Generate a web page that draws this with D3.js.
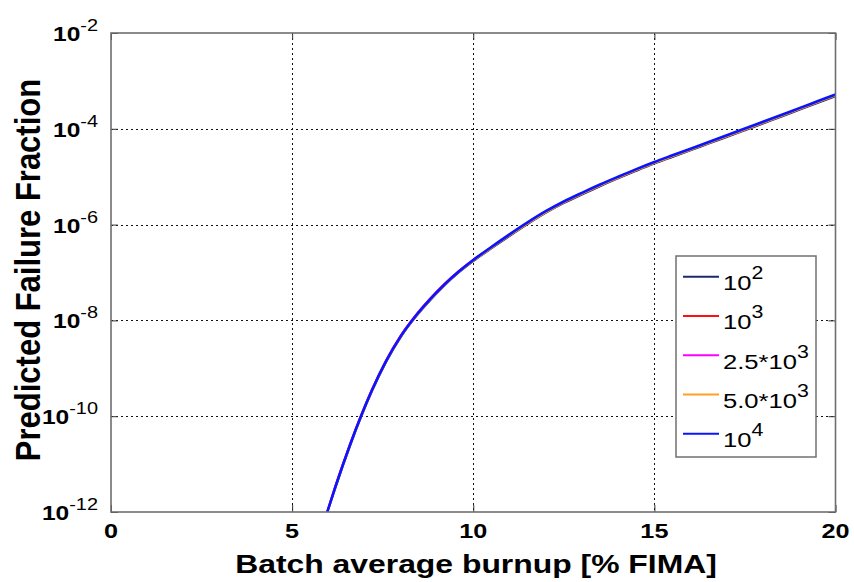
<!DOCTYPE html>
<html>
<head>
<meta charset="utf-8">
<script src="https://cdn.jsdelivr.net/npm/d3@7/dist/d3.min.js"></script>
<style>
  html, body { margin: 0; padding: 0; background: #fff; }
  svg { display: block; font-family: "Liberation Sans", Arial, sans-serif; }
</style>
</head>
<body>
<svg id="chart" width="854" height="582"></svg>
<script>
// Batch average burnup [% FIMA]
const burnup = [5.97, 6.2, 6.4, 6.6, 6.9, 7.2, 7.6, 8.0, 8.4, 8.8, 9.2, 9.6, 10, 10.5, 11, 11.5, 12,
  12.5, 13, 13.5, 14, 14.5, 15, 15.5, 16, 16.5, 17, 17.5, 18, 18.5, 19, 19.5, 20];

// Predicted failure fraction for each sample size
const fraction1e2 = [1.0e-12, 3.28e-12, 9.11e-12, 2.41e-11, 9.43e-11, 3.26e-10, 1.37e-9, 4.47e-9, 1.15e-8,
  2.57e-8, 5.30e-8, 9.98e-8, 1.72e-7, 3.17e-7, 5.74e-7, 1.02e-6, 1.75e-6, 2.80e-6, 4.24e-6, 6.32e-6,
  9.20e-6, 1.32e-5, 1.87e-5, 2.58e-5, 3.54e-5, 4.89e-5, 6.73e-5, 9.29e-5, 1.29e-4, 1.78e-4, 2.48e-4,
  3.45e-4, 4.79e-4];
const fraction1e3 = [1.0e-12, 3.52e-12, 9.78e-12, 2.59e-11, 1.01e-10, 3.50e-10, 1.47e-9, 4.79e-9, 1.23e-8,
  2.76e-8, 5.64e-8, 1.05e-7, 1.81e-7, 3.34e-7, 6.05e-7, 1.08e-6, 1.84e-6, 2.95e-6, 4.47e-6, 6.66e-6,
  9.70e-6, 1.40e-5, 1.97e-5, 2.72e-5, 3.73e-5, 5.15e-5, 7.09e-5, 9.80e-5, 1.36e-4, 1.88e-4, 2.62e-4,
  3.64e-4, 5.05e-4];
const fraction2p5e3 = [1.0e-12, 3.59e-12, 9.97e-12, 2.64e-11, 1.03e-10, 3.57e-10, 1.50e-9, 4.89e-9, 1.26e-8,
  2.82e-8, 5.75e-8, 1.07e-7, 1.83e-7, 3.38e-7, 6.12e-7, 1.09e-6, 1.86e-6, 2.98e-6, 4.52e-6, 6.73e-6,
  9.80e-6, 1.41e-5, 1.99e-5, 2.74e-5, 3.77e-5, 5.20e-5, 7.16e-5, 9.90e-5, 1.37e-4, 1.90e-4, 2.65e-4,
  3.68e-4, 5.11e-4];
const fraction5e3 = [1.0e-12, 3.35e-12, 9.30e-12, 2.46e-11, 9.63e-11, 3.33e-10, 1.40e-9, 4.56e-9, 1.17e-8,
  2.63e-8, 5.41e-8, 1.02e-7, 1.76e-7, 3.25e-7, 5.93e-7, 1.05e-6, 1.80e-6, 2.89e-6, 4.38e-6, 6.53e-6,
  9.50e-6, 1.37e-5, 1.93e-5, 2.66e-5, 3.66e-5, 5.04e-5, 6.94e-5, 9.60e-5, 1.33e-4, 1.84e-4, 2.57e-4,
  3.56e-4, 4.95e-4];
const fraction1e4 = [1.0e-12, 3.45e-12, 9.59e-12, 2.54e-11, 9.93e-11, 3.43e-10, 1.44e-9, 4.70e-9, 1.21e-8,
  2.71e-8, 5.58e-8, 1.05e-7, 1.83e-7, 3.41e-7, 6.24e-7, 1.11e-6, 1.90e-6, 3.04e-6, 4.61e-6, 6.87e-6,
  1.00e-5, 1.44e-5, 2.03e-5, 2.80e-5, 3.85e-5, 5.31e-5, 7.31e-5, 1.01e-4, 1.40e-4, 1.94e-4, 2.70e-4,
  3.75e-4, 5.21e-4];

// Legend labels: mantissa text and superscript exponent
const legendBase = ["10", "10", "2.5*10", "5.0*10", "10"];
const legendExp = ["2", "3", "3", "3", "4"];

// Axis ticks
const xTicks = [0, 5, 10, 15, 20];
const yTickExps = [-2, -4, -6, -8, -10, -12];

const seriesValues = [fraction1e2, fraction1e3, fraction2p5e3, fraction5e3, fraction1e4];
const seriesColors = ["#1c2a6b", "#ff1010", "#ff00ff", "#ffa020", "#0a14ff"];
const seriesWidths = [2, 2, 2, 2, 2.6];

const svg = d3.select("#chart");
const plot = { left: 111, right: 835.5, top: 33, bottom: 512 };

const x = d3.scaleLinear().domain([0, 20]).range([plot.left, plot.right]);
const y = d3.scaleLog().domain([1e-12, 1e-2]).range([plot.bottom, plot.top]);

// horizontal stretch applied to text
const SX = 1.2;

svg.append("defs").append("clipPath").attr("id", "plotClip")
  .append("rect")
  .attr("x", plot.left).attr("y", plot.top)
  .attr("width", plot.right - plot.left).attr("height", plot.bottom - plot.top);

svg.append("rect")
  .attr("x", plot.left).attr("y", plot.top)
  .attr("width", plot.right - plot.left).attr("height", plot.bottom - plot.top)
  .attr("fill", "#fff");

// Dotted grid
const grid = svg.append("g").attr("stroke", "#111").attr("stroke-width", 1)
  .attr("stroke-dasharray", "2,3");
grid.selectAll(".gx").data(xTicks.slice(1, -1)).join("line")
  .attr("x1", d => Math.round(x(d)) + 0.5).attr("x2", d => Math.round(x(d)) + 0.5)
  .attr("y1", plot.top).attr("y2", plot.bottom);
grid.selectAll(".gy").data(yTickExps.slice(1, -1)).join("line")
  .attr("y1", d => Math.round(y(Math.pow(10, d))) + 0.5).attr("y2", d => Math.round(y(Math.pow(10, d))) + 0.5)
  .attr("x1", plot.left).attr("x2", plot.right);

// Inner tick marks on all four sides via d3 axes
const tickLen = 7;
const yTickVals = yTickExps.map(e => Math.pow(10, e));
const axisStyle = g => {
  g.select(".domain").remove();
  g.selectAll("text").remove();
  g.selectAll("line").attr("stroke", "#333").attr("stroke-width", 1);
};
svg.append("g").attr("transform", `translate(0,${plot.bottom})`)
  .call(d3.axisBottom(x).tickValues(xTicks).tickSize(-tickLen)).call(axisStyle);
svg.append("g").attr("transform", `translate(0,${plot.top})`)
  .call(d3.axisTop(x).tickValues(xTicks).tickSize(-tickLen)).call(axisStyle);
svg.append("g").attr("transform", `translate(${plot.left},0)`)
  .call(d3.axisLeft(y).tickValues(yTickVals).tickSize(-tickLen)).call(axisStyle);
svg.append("g").attr("transform", `translate(${plot.right},0)`)
  .call(d3.axisRight(y).tickValues(yTickVals).tickSize(-tickLen)).call(axisStyle);

// Series curves
const line = d3.line().x(d => x(d[0])).y(d => y(d[1])).curve(d3.curveMonotoneX);
const curves = svg.append("g").attr("clip-path", "url(#plotClip)");
seriesValues.forEach((vals, i) => {
  curves.append("path")
    .datum(burnup.map((b, j) => [b, vals[j]]))
    .attr("d", line)
    .attr("fill", "none")
    .attr("stroke", seriesColors[i])
    .attr("stroke-width", seriesWidths[i])
    .attr("stroke-linejoin", "round");
});

// Axes box
svg.append("rect")
  .attr("x", plot.left).attr("y", plot.top)
  .attr("width", plot.right - plot.left).attr("height", plot.bottom - plot.top)
  .attr("fill", "none").attr("stroke", "#6e6e6e").attr("stroke-width", 1.6);

// Y tick labels 10^n
yTickExps.forEach(e => {
  const t = svg.append("text")
    .attr("transform", `translate(98,${y(Math.pow(10, e)) + 8}) scale(1.17,1)`)
    .attr("text-anchor", "end")
    .attr("fill", "#000");
  t.append("tspan").attr("font-size", 21).attr("font-weight", "bold").text("10");
  t.append("tspan").attr("font-size", 17).attr("dy", -10).text(e);
});

// X tick labels
xTicks.forEach(v => {
  svg.append("text")
    .attr("transform", `translate(${x(v)},538) scale(${SX},1)`)
    .attr("text-anchor", "middle")
    .attr("font-size", 21).attr("font-weight", "bold")
    .text(v);
});

// Axis titles
svg.append("text")
  .attr("transform", `translate(476,573) scale(1.25,1)`)
  .attr("text-anchor", "middle")
  .attr("font-size", 25.5).attr("font-weight", "bold")
  .text("Batch average burnup [% FIMA]");

svg.append("text")
  .attr("transform", `translate(40,270) rotate(-90) scale(1,1.13)`)
  .attr("text-anchor", "middle")
  .attr("font-size", 31).attr("font-weight", "bold")
  .text("Predicted Failure Fraction");

// Legend
const legend = { x: 676, y: 256, w: 140, h: 201, row0: 276.7, rowStep: 39.25 };
svg.append("rect")
  .attr("x", legend.x).attr("y", legend.y).attr("width", legend.w).attr("height", legend.h)
  .attr("fill", "#fff").attr("stroke", "#707070").attr("stroke-width", 1.5);
legendBase.forEach((base, i) => {
  const ry = legend.row0 + i * legend.rowStep;
  svg.append("line")
    .attr("x1", 683).attr("x2", 719).attr("y1", ry).attr("y2", ry)
    .attr("stroke", seriesColors[i]).attr("stroke-width", 2);
  const t = svg.append("text")
    .attr("transform", `translate(723,${ry + 13.5}) scale(1.22,1)`)
    .attr("fill", "#000");
  t.append("tspan").attr("font-size", 21).text(base);
  t.append("tspan").attr("font-size", 17.5).attr("dy", -11).text(legendExp[i]);
});
</script>
</body>
</html>
